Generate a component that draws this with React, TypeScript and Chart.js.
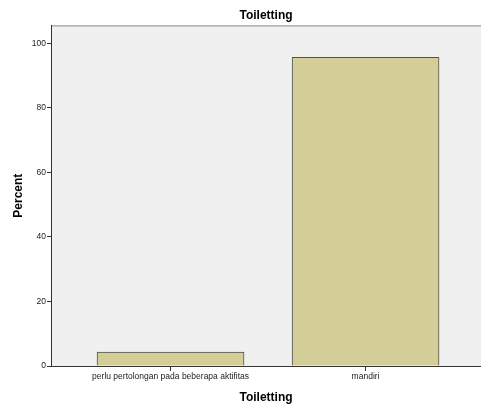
import React, { useEffect, useRef } from "react";
import { Chart, registerables } from "chart.js";

Chart.register(...registerables);

const categories = ["perlu pertolongan pada beberapa aktifitas", "mandiri"];
const percents = [4.3, 95.7];
const yTickValues = [0, 20, 40, 60, 80, 100];
const chartTitle = "Toiletting";
const xTitle = "Toiletting";
const yTitle = "Percent";

const FONT = "'Liberation Sans', Arial, sans-serif";

const framePlugin = {
  id: "frame",
  beforeDraw(chart: any) {
    const { ctx, chartArea } = chart;
    ctx.save();
    ctx.fillStyle = "#f0f0f0";
    ctx.fillRect(chartArea.left, chartArea.top, chartArea.right - chartArea.left, chartArea.bottom - chartArea.top);
    ctx.strokeStyle = "#8a8a8a";
    ctx.lineWidth = 1;
    ctx.beginPath();
    ctx.moveTo(chartArea.left, chartArea.top + 0.5);
    ctx.lineTo(chartArea.right, chartArea.top + 0.5);
    ctx.stroke();
    ctx.restore();
  },
};

export default function App() {
  const ref = useRef<HTMLCanvasElement>(null);
  useEffect(() => {
    document.body.style.margin = "0";
    const chart = new Chart(ref.current!, {
      type: "bar",
      data: {
        datasets: [
          {
            data: categories.map((_, i) => ({ x: i, y: percents[i] })),
            backgroundColor: "#d3ce98",
            borderColor: "#4f4f4f",
            borderWidth: 1,
            barThickness: 147,
          },
        ],
      },
      options: {
        responsive: false,
        animation: false,
        layout: { padding: 0 },
        plugins: {
          legend: { display: false },
          tooltip: { enabled: false },
          title: {
            display: true,
            text: chartTitle,
            fullSize: false,
            color: "#000",
            font: { family: FONT, size: 12, weight: "bold" },
            padding: { top: 8, bottom: 3 },
          },
        },
        scales: {
          x: {
            type: "linear",
            offset: false,
            min: -0.613,
            max: 1.592,
            afterBuildTicks: (scale: any) => {
              scale.ticks = categories.map((_, i) => ({ value: i }));
            },
            afterFit: (scale: any) => {
              scale.height = 44;
            },
            ticks: {
              autoSkip: false,
              maxRotation: 0,
              color: "#222",
              font: { family: FONT, size: 8.5 },
              padding: 1,
              callback: (v: any) => categories[v] ?? "",
            },
            grid: {
              display: true,
              offset: false,
              drawOnChartArea: false,
              tickLength: 5,
              tickColor: "#333",
            },
            border: { display: true, color: "#333" },
            title: {
              display: true,
              text: xTitle,
              color: "#000",
              font: { family: FONT, size: 12, weight: "bold" },
              padding: { top: 0, bottom: 5 },
            },
          },
          y: {
            min: 0,
            max: 105.6,
            afterBuildTicks: (scale: any) => {
              scale.ticks = yTickValues.map((v) => ({ value: v }));
            },
            afterFit: (scale: any) => {
              scale.width = 51;
            },
            ticks: {
              color: "#222",
              font: { family: FONT, size: 8.5 },
              padding: 1,
            },
            grid: {
              display: true,
              drawOnChartArea: false,
              tickLength: 4,
              tickColor: "#333",
            },
            border: { display: true, color: "#333" },
            title: {
              display: true,
              text: yTitle,
              color: "#000",
              font: { family: FONT, size: 12, weight: "bold" },
              padding: { top: 11, bottom: 0 },
            },
          },
        },
      },
      plugins: [framePlugin],
    } as any);
    return () => chart.destroy();
  }, []);
  return (
    <div style={{ width: 481, height: 410, background: "#fff" }}>
      <canvas ref={ref} width={481} height={410} />
    </div>
  );
}
